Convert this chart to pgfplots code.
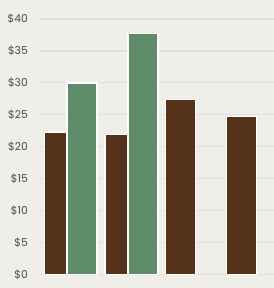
\documentclass[border=0pt]{standalone}
\usepackage{pgfplots}
\pgfplotsset{compat=1.18}
\usepackage{fontspec}
\setmainfont{Poppins}
\definecolor{bg}{HTML}{EFEEE8}
\definecolor{gridc}{HTML}{E1DFD9}
\definecolor{brownc}{HTML}{55331A}
\definecolor{greenc}{HTML}{5E8C69}
\definecolor{txt}{HTML}{4A4A4A}
\begin{document}
\begin{tikzpicture}
\useasboundingbox (-40bp,-13.5bp) rectangle (234bp,274.5bp);
\fill[bg] (-40bp,-13.5bp) rectangle (234bp,274.5bp);
\begin{axis}[
  scale only axis, width=234bp, height=255.5bp,
  xmin=40, xmax=274, ymin=0, ymax=40,
  axis line style={draw=none},
  xtick=\empty,
  ytick={0,5,...,40},
  yticklabels={\$0,\$5,\$10,\$15,\$20,\$25,\$30,\$35,\$40},
  yticklabel style={anchor=east, inner sep=0pt, xshift=-12bp, font=\fontsize{10.8}{12}\selectfont, text=txt},
  major tick length=0pt,
  ymajorgrids, grid style={draw=gridc, line width=1.2bp},
  ybar, bar shift=0pt, bar width=30,
]
\addplot[fill=brownc, draw=white, line width=1.5bp] coordinates {(59.3,22.3) (120,21.9) (180.7,27.4) (241.3,24.7)};
\addplot[fill=greenc, draw=white, line width=1.5bp] coordinates {(82.2,30) (142.8,37.7)};
\end{axis}
\end{tikzpicture}
\end{document}
